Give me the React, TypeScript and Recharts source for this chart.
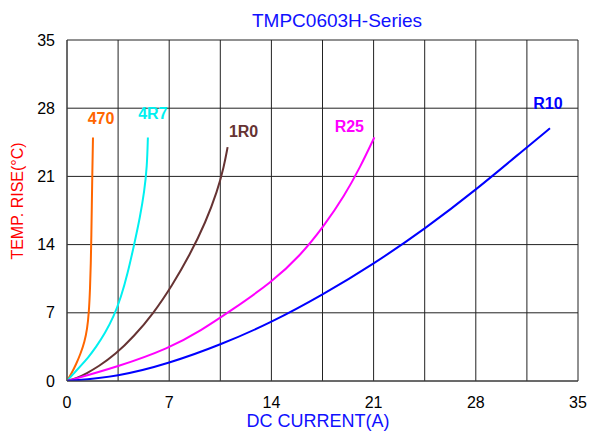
import React from "react";
import {
  CartesianGrid,
  Line,
  LineChart,
  ReferenceLine,
  XAxis,
  YAxis,
} from "recharts";

const FONT = '"Liberation Sans", Arial, sans-serif';

// axis ticks
const currentTicks = [0, 7, 14, 21, 28, 35];
const riseTicks = [0, 7, 14, 21, 28, 35];
const halfGrid = [3.5, 10.5, 17.5, 24.5, 31.5];

// curves: [current (A), temp rise (C)]
const curve470 = [
  [0, 0], [0.32, 0.8], [0.62, 1.7], [0.94, 2.85], [1.2, 4.0], [1.38, 5.3],
  [1.5, 7], [1.58, 9.5], [1.63, 12], [1.67, 15], [1.7, 18],
  [1.73, 21], [1.78, 25],
];
const curve4R7 = [
  [0, 0], [0.48, 0.8], [0.9, 1.5], [1.45, 2.4], [2.0, 3.5], [2.6, 4.9],
  [3.2, 6.6], [3.7, 8.6], [4.15, 11], [4.6, 14], [5.0, 16.8], [5.3, 19.5],
  [5.48, 22], [5.54, 25],
];
const curve1R0 = [
  [0, 0], [0.66, 0.28], [1.35, 0.79], [2.14, 1.47], [3.3, 2.7], [4.6, 4.6],
  [5.9, 6.9], [7.2, 9.8], [8.4, 12.9], [9.5, 16.3], [10.3, 19.5], [10.75, 22],
  [11.0, 24],
];
const curveR25 = [
  [0, 0], [3.5, 1.47], [7, 3.36], [9.2, 5.2], [11.2, 7.2], [14, 10.1],
  [16.0, 12.9], [17.6, 15.9], [19.0, 19], [20.1, 22], [21.05, 25],
];
const curveR10 = [
  [0, 0], [3.5, 0.44], [7, 1.81], [10.5, 3.7], [14, 6], [17.5, 8.83],
  [21, 12], [24.5, 15.6], [28, 19.6], [31.5, 24], [33.08, 25.94],
];

const series = [
  { name: "470", points: curve470, color: "#ff6600", dx: 8, dy: -19 },
  { name: "4R7", points: curve4R7, color: "#00f0f0", dx: 5, dy: -24 },
  { name: "1R0", points: curve1R0, color: "#663333", dx: 16, dy: -16 },
  { name: "R25", points: curveR25, color: "#ff00ff", dx: -25, dy: -11 },
  { name: "R10", points: curveR10, color: "#0000ff", dx: -2, dy: -25 },
];

const toRows = (pts: number[][]) => pts.map(([x, y]) => ({ x, y }));

const endLabel = (name: string, color: string, count: number, dx: number, dy: number) =>
  (props: any) => {
    if (props.index !== count - 1) return null;
    return (
      <text
        x={props.x + dx}
        y={props.y + dy}
        textAnchor="middle"
        dominantBaseline="central"
        fill={color}
        fontFamily={FONT}
        fontWeight="bold"
        fontSize={16}
      >
        {name}
      </text>
    );
  };

const App = () => {
  return (
    <div style={{ position: "absolute", left: 0, top: 0, width: 590, height: 432, background: "#fff" }}>
      <LineChart
        width={590}
        height={432}
        margin={{ top: 40, right: 12, bottom: 0, left: 0 }}
      >
        <CartesianGrid stroke="#222" strokeWidth={1} />
        {halfGrid.map((v) => (
          <ReferenceLine key={v} x={v} stroke="#222" strokeWidth={1} />
        ))}
        <XAxis
          type="number"
          dataKey="x"
          domain={[0, 35]}
          ticks={currentTicks}
          height={51}
          tickLine={false}
          tickSize={0}
          tickMargin={16}
          stroke="#444"
          tick={{ fill: "#000", fontSize: 16, fontFamily: FONT }}
          allowDataOverflow
        />
        <YAxis
          type="number"
          domain={[0, 35]}
          ticks={riseTicks}
          width={67}
          tickLine={false}
          tickSize={0}
          tickMargin={12}
          stroke="#444"
          tick={{ fill: "#000", fontSize: 16, fontFamily: FONT }}
          allowDataOverflow
        />
        {series.map((s) => (
          <Line
            key={s.name}
            data={toRows(s.points)}
            dataKey="y"
            type="basis"
            stroke={s.color}
            strokeWidth={2}
            dot={false}
            isAnimationActive={false}
            label={endLabel(s.name, s.color, s.points.length, s.dx, s.dy)}
          />
        ))}
      </LineChart>
      <svg
        width={590}
        height={432}
        style={{ position: "absolute", left: 0, top: 0, pointerEvents: "none" }}
      >
        <text x={337} y={20} textAnchor="middle" dominantBaseline="central" fill="#1010ff" fontFamily={FONT} fontSize={19}>
          TMPC0603H-Series
        </text>
        <text x={318} y={421} textAnchor="middle" dominantBaseline="central" fill="#1010ff" fontFamily={FONT} fontSize={18}>
          DC CURRENT(A)
        </text>
        <text
          x={17}
          y={201}
          textAnchor="middle"
          dominantBaseline="central"
          fill="#ff0000"
          fontFamily={FONT}
          fontSize={16}
          transform="rotate(-90 17 201)"
        >
          TEMP. RISE(°C)
        </text>
      </svg>
    </div>
  );
};

export default App;
